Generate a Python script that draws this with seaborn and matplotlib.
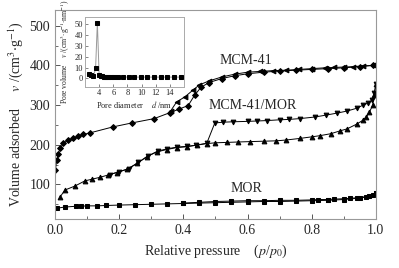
import matplotlib
matplotlib.use("Agg")
import matplotlib.pyplot as plt
import seaborn as sns
from matplotlib.ticker import MultipleLocator

# MCM-41 isotherm
mcm_ads_x = [0.001, 0.005, 0.010, 0.016, 0.026, 0.041, 0.057, 0.073, 0.088, 0.109, 0.18, 0.239,
             0.309, 0.358, 0.387, 0.415, 0.435, 0.455, 0.48, 0.52, 0.56, 0.60, 0.65, 0.70, 0.75,
             0.80, 0.85, 0.90, 0.95, 0.99]
mcm_ads_y = [136, 161, 178, 191, 204, 212, 216, 222, 226, 230, 245, 255,
             266, 281, 290, 299, 325, 345, 357, 367, 374, 379, 383, 386, 388,
             390, 392, 394, 397, 400]
mcm_des_x = [0.99, 0.96, 0.93, 0.90, 0.87, 0.84, 0.80, 0.76, 0.72, 0.68, 0.64, 0.60, 0.56, 0.52,
             0.48, 0.45, 0.43, 0.405, 0.379, 0.36]
mcm_des_y = [400, 399, 397, 396, 395, 394, 392, 390, 388, 387, 385, 383, 378, 371,
             361, 351, 338, 321, 308, 285]

# MCM-41/MOR isotherm
cm_ads_x = [0.016, 0.031, 0.062, 0.093, 0.114, 0.14, 0.166, 0.192, 0.223, 0.256, 0.286, 0.317,
            0.348, 0.379, 0.41, 0.441, 0.473, 0.50, 0.535, 0.57, 0.607, 0.65, 0.69, 0.72, 0.763,
            0.80, 0.826, 0.86, 0.888, 0.91, 0.94, 0.96, 0.97, 0.98, 0.99, 0.995, 1.0]
cm_ads_y = [69, 86, 96, 109, 113, 118, 124, 130, 138, 153, 170, 182,
            188, 193, 195, 199, 203, 205, 206, 207, 208, 209, 210, 212, 216,
            220, 223, 228, 235, 240, 252, 262, 270, 282, 300, 325, 352]
cm_des_x = [1.0, 0.995, 0.987, 0.975, 0.96, 0.94, 0.91, 0.88, 0.846, 0.81, 0.763, 0.73, 0.70,
            0.66, 0.63, 0.60, 0.555, 0.525, 0.498, 0.473, 0.44, 0.41, 0.38, 0.35, 0.32,
            0.29, 0.26, 0.23, 0.20, 0.17]
cm_des_y = [352, 330, 312, 305, 300, 292, 285, 280, 275, 270, 266, 264, 263,
            261, 260, 259, 258, 257, 255, 204, 199, 196, 194, 190, 184,
            172, 156, 140, 132, 125]

# MOR isotherm
mor_ads_x = [0.005, 0.03, 0.065, 0.08, 0.1, 0.13, 0.16, 0.2, 0.25, 0.3, 0.35, 0.4, 0.45, 0.5,
             0.55, 0.6, 0.65, 0.7, 0.75, 0.8, 0.85, 0.9, 0.94, 0.97, 0.99, 1.0]
mor_ads_y = [40, 43, 45, 45, 46, 46, 47, 48, 49, 50, 51, 52, 53, 54,
             55, 56, 57, 57, 58, 59, 60, 62, 65, 68, 74, 78]
mor_des_x = [1.0, 0.98, 0.95, 0.92, 0.9, 0.87, 0.85, 0.82, 0.8, 0.75, 0.7, 0.65, 0.6, 0.55,
             0.5, 0.45, 0.4]
mor_des_y = [78, 71, 67, 65, 64, 63, 62, 62, 61, 60, 60, 59, 59, 58,
             57, 55, 53]

# pore size distribution (inset)
pore_d = [2.6, 2.9, 3.2, 3.5, 3.75, 4.0, 4.2, 4.45, 4.7, 5.0, 5.3, 5.7, 6.1, 6.7, 7.4, 8.2,
          9.0, 9.9, 10.8, 11.7, 12.7, 13.6, 14.6, 15.6]
pore_v = [4.0, 2.8, 2.0, 9.3, 51.5, 3.5, 2.2, 1.8, 1.6, 1.5, 1.4, 1.4, 1.3, 1.3, 1.3, 1.2,
          1.2, 1.2, 1.2, 1.2, 1.2, 1.2, 1.2, 1.2]

sns.set_style("ticks")
plt.rcParams['font.family'] = ['Liberation Serif', 'DejaVu Serif']
plt.rcParams['mathtext.fontset'] = 'stix'

fig = plt.figure(figsize=(3.99, 2.68), dpi=100)
ax = fig.add_axes([0.138, 0.183, 0.804, 0.780])

series = [
    (mcm_ads_x, mcm_ads_y, 'D', 3.0), (mcm_des_x, mcm_des_y, '<', 3.4),
    (cm_ads_x, cm_ads_y, '^', 3.4), (cm_des_x, cm_des_y, 'v', 3.4),
    (mor_ads_x, mor_ads_y, 's', 3.0), (mor_des_x, mor_des_y, 's', 3.0),
]
for xs, ys, m, ms in series:
    sns.lineplot(x=xs, y=ys, ax=ax, sort=False, estimator=None, color='black', lw=0.7,
                 marker=m, markersize=ms, markeredgecolor='black', markerfacecolor='black')

ax.set_xlim(0, 1.0)
ax.set_ylim(13, 540)
ax.xaxis.set_minor_locator(MultipleLocator(0.1))
ax.yaxis.set_minor_locator(MultipleLocator(50))
ax.set_xticks([0.0, 0.2, 0.4, 0.6, 0.8, 1.0])
ax.set_xticklabels(['0.0', '0.2', '0.4', '0.6', '0.8', '1.0'])
ax.set_yticks([100, 200, 300, 400, 500])
ax.tick_params(which='both', direction='in', labelsize=10, color='#555555')
ax.tick_params(which='major', length=3.5, width=0.7)
ax.tick_params(which='minor', length=2, width=0.6)
for s in ax.spines.values():
    s.set_color('#999999')
    s.set_linewidth(0.8)
ax.set_xlabel(r'Relative pressure    ($p$/$p_0$)', fontsize=10, labelpad=4)
ax.set_ylabel(r'Volume adsorbed     $v$ /(cm$^3$$\cdot$g$^{-1}$)', fontsize=10, labelpad=3)

ax.text(0.595, 413, 'MCM-41', fontsize=10, ha='center', va='center')
ax.text(0.617, 300, 'MCM-41/MOR', fontsize=10, ha='center', va='center')
ax.text(0.598, 91, 'MOR', fontsize=10, ha='center', va='center')

# inset
ins = fig.add_axes([0.213, 0.675, 0.248, 0.263])
sns.lineplot(x=pore_d, y=pore_v, ax=ins, sort=False, estimator=None, color='#999999', lw=0.7,
             marker='s', markersize=2.2, markeredgecolor='black', markerfacecolor='black')
ins.set_xlim(2, 16)
ins.set_ylim(-8, 57)
ins.set_xticks([4, 6, 8, 10, 12, 14])
ins.set_yticks([0, 10, 20, 30, 40, 50])
ins.tick_params(direction='in', labelsize=6, length=2, width=0.5, pad=1.5, color='#555555')
for s in ins.spines.values():
    s.set_color('#aaaaaa')
    s.set_linewidth(0.7)
ins.set_xlabel(r'Pore diameter    $d$ /nm', fontsize=6, labelpad=1.5)
ins.set_ylabel(r'Pore volume    $v$ /(cm$^3$$\cdot$g$^{-1}$$\cdot$nm$^{-1}$)', fontsize=5.5, labelpad=1.5)

fig.savefig('out.png', dpi=100)
